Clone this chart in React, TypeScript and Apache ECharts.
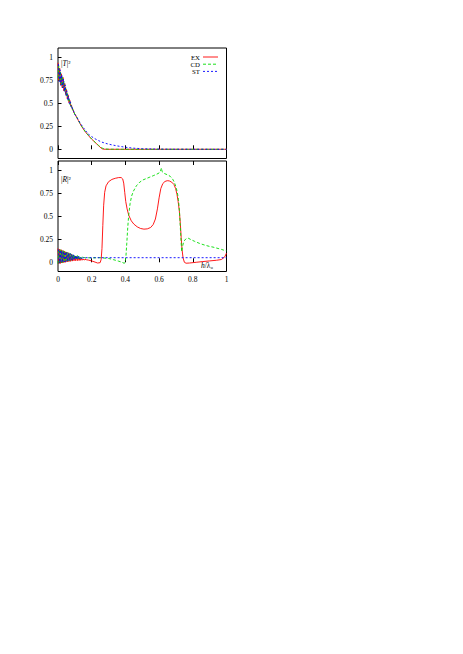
import React, { useEffect, useRef } from "react";
import * as echarts from "echarts";

// ---------- data ----------
const xTicks = [0, 0.2, 0.4, 0.6, 0.8, 1];
const yTicks = [0, 0.25, 0.5, 0.75, 1];

// top panel |T|^2 : fast oscillating start (x grid A and B)
const oscXA = [0, 0.005, 0.01, 0.015, 0.02, 0.025, 0.03, 0.035, 0.04, 0.045, 0.05, 0.055, 0.06, 0.065, 0.07, 0.075, 0.08, 0.085, 0.09, 0.095, 0.1];
const oscXB = [0.0025, 0.0075, 0.0125, 0.0175, 0.0225, 0.0275, 0.0325, 0.0375, 0.0425, 0.0475, 0.0525, 0.0575, 0.0625, 0.0675, 0.0725, 0.0775, 0.0825, 0.0875, 0.0925, 0.0975];
const tOscEX = [0.94, 0.745, 0.88, 0.7, 0.82, 0.67, 0.78, 0.635, 0.715, 0.595, 0.65, 0.549, 0.592, 0.507, 0.534, 0.47, 0.482, 0.431, 0.431, 0.392, 0.385];
const tOscCD = [0.77, 0.907, 0.728, 0.843, 0.687, 0.794, 0.666, 0.74, 0.62, 0.68, 0.574, 0.617, 0.531, 0.56, 0.488, 0.508, 0.45, 0.458, 0.41, 0.407, 0.376];
const tOscST = [0.925, 0.735, 0.863, 0.693, 0.809, 0.666, 0.762, 0.626, 0.7, 0.582, 0.636, 0.539, 0.578, 0.497, 0.522, 0.46, 0.47, 0.421, 0.419, 0.384];

const tTailEX: [number, number][] = [[0.11, 0.35], [0.12, 0.315], [0.13, 0.28], [0.14, 0.25], [0.15, 0.22], [0.16, 0.195], [0.18, 0.15], [0.2, 0.11], [0.22, 0.075], [0.24, 0.04], [0.255, 0.015], [0.265, 0.003], [0.28, 0], [0.4, 0], [0.6, 0], [1, 0]];
const tTailCD: [number, number][] = [[0.11, 0.352], [0.12, 0.317], [0.13, 0.283], [0.14, 0.252], [0.15, 0.223], [0.16, 0.197], [0.18, 0.152], [0.2, 0.112], [0.22, 0.077], [0.24, 0.043], [0.26, 0.015], [0.275, 0.004], [0.3, 0.001], [0.4, 0], [1, 0]];
const tTailST: [number, number][] = [[0.11, 0.355], [0.12, 0.322], [0.13, 0.29], [0.14, 0.262], [0.15, 0.236], [0.16, 0.212], [0.18, 0.165], [0.2, 0.137], [0.22, 0.114], [0.24, 0.095], [0.26, 0.078], [0.28, 0.066], [0.3, 0.056], [0.32, 0.048], [0.35, 0.037], [0.4, 0.022], [0.45, 0.012], [0.5, 0.006], [0.6, 0.002], [0.7, 0.001], [1, 0]];

// bottom panel |R|^2 : oscillating start
const rOscX = [0, 0.005, 0.01, 0.015, 0.02, 0.025, 0.03, 0.035, 0.04, 0.045, 0.05, 0.055, 0.06, 0.065, 0.07, 0.075, 0.08, 0.085, 0.09, 0.095, 0.1, 0.105, 0.11, 0.115, 0.12, 0.125, 0.13, 0.135, 0.14, 0.145, 0.15, 0.155, 0.16];
const rOscXB = [0.0025, 0.0075, 0.0125, 0.0175, 0.0225, 0.0275, 0.0325, 0.0375, 0.0425, 0.0475, 0.0525, 0.0575, 0.0625, 0.0675, 0.0725, 0.0775, 0.0825, 0.0875, 0.0925, 0.0975, 0.1025, 0.1075, 0.1125, 0.1175, 0.1225, 0.1275, 0.1325, 0.1375, 0.1425, 0.1475, 0.1525, 0.1575];
const rOscEX = [0.15, -0.017, 0.143, -0.012, 0.136, -0.008, 0.128, -0.004, 0.12, 0, 0.112, 0.004, 0.104, 0.007, 0.095, 0.01, 0.086, 0.013, 0.077, 0.016, 0.069, 0.017, 0.062, 0.018, 0.055, 0.019, 0.048, 0.021, 0.042, 0.023, 0.036, 0.024, 0.032];
const rOscCD = [-0.016, 0.143, -0.011, 0.136, -0.006, 0.13, -0.002, 0.123, 0.003, 0.116, 0.008, 0.109, 0.012, 0.103, 0.017, 0.096, 0.022, 0.089, 0.027, 0.083, 0.03, 0.078, 0.033, 0.073, 0.036, 0.068, 0.039, 0.063, 0.041, 0.059, 0.044, 0.055, 0.046];
const rOscST = [0.14, -0.01, 0.133, -0.005, 0.126, 0.0, 0.119, 0.004, 0.112, 0.008, 0.105, 0.012, 0.099, 0.016, 0.093, 0.02, 0.087, 0.024, 0.081, 0.028, 0.076, 0.031, 0.071, 0.034, 0.066, 0.037, 0.062, 0.04, 0.058, 0.043, 0.055, 0.046];

const rTailEX: [number, number][] = [[0.17, 0.027], [0.18, 0.024], [0.2, 0.015], [0.22, 0.002], [0.235, -0.008], [0.25, -0.004], [0.256, 0.03], [0.261, 0.15], [0.266, 0.4], [0.271, 0.62], [0.277, 0.76], [0.285, 0.83], [0.3, 0.875], [0.32, 0.9], [0.34, 0.912], [0.36, 0.92], [0.375, 0.92], [0.384, 0.905], [0.39, 0.86], [0.396, 0.76], [0.402, 0.66], [0.41, 0.58], [0.42, 0.51], [0.435, 0.45], [0.45, 0.415], [0.47, 0.385], [0.49, 0.367], [0.51, 0.36], [0.53, 0.363], [0.55, 0.378], [0.565, 0.41], [0.578, 0.47], [0.59, 0.58], [0.6, 0.7], [0.61, 0.8], [0.622, 0.855], [0.635, 0.878], [0.648, 0.886], [0.66, 0.884], [0.675, 0.87], [0.688, 0.845], [0.698, 0.8], [0.706, 0.74], [0.713, 0.66], [0.72, 0.56], [0.726, 0.42], [0.731, 0.27], [0.736, 0.14], [0.742, 0.05], [0.75, 0.0], [0.76, -0.01], [0.78, -0.008], [0.82, 0.0], [0.86, 0.008], [0.9, 0.015], [0.94, 0.022], [0.97, 0.03], [0.99, 0.06], [1.0, 0.1]];
const rTailCD: [number, number][] = [[0.17, 0.05], [0.2, 0.048], [0.25, 0.05], [0.3, 0.042], [0.33, 0.028], [0.36, 0.012], [0.38, 0.0], [0.392, -0.01], [0.398, -0.005], [0.403, 0.06], [0.408, 0.2], [0.414, 0.38], [0.42, 0.52], [0.428, 0.64], [0.437, 0.72], [0.447, 0.77], [0.465, 0.83], [0.485, 0.87], [0.505, 0.895], [0.525, 0.91], [0.545, 0.925], [0.565, 0.94], [0.584, 0.955], [0.6, 0.97], [0.608, 0.99], [0.614, 1.025], [0.618, 0.985], [0.63, 0.965], [0.65, 0.95], [0.665, 0.935], [0.68, 0.905], [0.69, 0.87], [0.7, 0.82], [0.708, 0.76], [0.715, 0.68], [0.721, 0.55], [0.726, 0.38], [0.73, 0.24], [0.734, 0.115], [0.738, 0.16], [0.744, 0.21], [0.752, 0.24], [0.762, 0.26], [0.775, 0.26], [0.79, 0.245], [0.81, 0.228], [0.84, 0.205], [0.87, 0.187], [0.9, 0.172], [0.92, 0.165], [0.95, 0.15], [0.97, 0.14], [0.99, 0.128], [1.0, 0.125]];
const rTailST: [number, number][] = [[0.165, 0.05], [0.2, 0.05], [0.4, 0.05], [0.6, 0.05], [0.8, 0.05], [1.0, 0.05]];

const legendNames = ["EX", "CD", "ST"];

// ---------- styling ----------
const FONT = "'Liberation Serif', 'DejaVu Serif', serif";
const COLORS = ["#ff0000", "#00dd00", "#0000ff"];
const DASHES: any[] = ["solid", [3, 2], [2, 2]];

const zip = (xs: number[], ys: number[]): [number, number][] => ys.map((y, i) => [xs[i], y]);

export default function App() {
  const ref = useRef<HTMLDivElement>(null);

  useEffect(() => {
    if (!ref.current) return;
    const chart = echarts.init(ref.current, undefined, { renderer: "svg" });

    const L = 58;
    const W = 168.5;
    const top1 = 48;
    const H = 110.5;
    const top2 = 161;

    const topData = [
      zip(oscXA, tOscEX).concat(tTailEX),
      zip(oscXA, tOscCD).concat(tTailCD),
      zip(oscXB, tOscST).concat(tTailST),
    ];
    const botData = [
      zip(rOscX, rOscEX).concat(rTailEX),
      zip(rOscX, rOscCD).concat(rTailCD),
      zip(rOscXB, rOscST).concat(rTailST),
    ];

    const label = { fontFamily: FONT, fontSize: 7.5, color: "#000" };

    const mkX = (gridIndex: number, position: "top" | "bottom", showLabel: boolean) => ({
      type: "value",
      gridIndex,
      position,
      min: 0,
      max: 1,
      interval: 0.2,
      axisLine: { show: false },
      splitLine: { show: false },
      axisTick: { show: true, inside: true, length: 4, lineStyle: { color: "#000", width: 1 } },
      axisLabel: {
        show: showLabel,
        ...label,
        margin: 4,
        formatter: (v: number) => String(+v.toFixed(1)),
      },
    });

    const mkY = (gridIndex: number) => ({
      type: "value",
      gridIndex,
      min: -0.1,
      max: 1.1,
      axisLine: { show: false },
      splitLine: { show: false },
      axisTick: { show: true, inside: true, length: 3.5, customValues: yTicks, lineStyle: { color: "#000", width: 1 } },
      axisLabel: { show: true, ...label, margin: 5, customValues: yTicks, formatter: (v: number) => String(v) },
    });

    const series: any[] = [];
    legendNames.forEach((name, i) => {
      series.push({
        name,
        type: "line",
        xAxisIndex: 0,
        yAxisIndex: 0,
        data: topData[i],
        showSymbol: false,
        symbol: "none",
        lineStyle: { color: COLORS[i], width: 0.9, type: DASHES[i] },
        z: 2 + i,
      });
      series.push({
        name,
        type: "line",
        xAxisIndex: 1,
        yAxisIndex: 1,
        data: botData[i],
        showSymbol: false,
        symbol: "none",
        lineStyle: { color: COLORS[i], width: 0.9, type: DASHES[i] },
        z: 2 + i,
      });
    });

    const legendGraphics: any[] = [];
    const legendY = [57, 64.2, 71.4];
    legendNames.forEach((name, i) => {
      legendGraphics.push({
        type: "text",
        x: 200,
        y: legendY[i],
        style: {
          text: name,
          fill: "#000",
          fontFamily: FONT,
          fontSize: 6.8,
          lineHeight: 6.8,
          align: "right",
          verticalAlign: "middle",
        },
      });
      legendGraphics.push({
        type: "line",
        shape: { x1: 203, y1: legendY[i], x2: 218, y2: legendY[i] },
        style: {
          stroke: COLORS[i],
          lineWidth: 0.9,
          lineDash: DASHES[i] === "solid" ? null : DASHES[i],
        },
      });
    });

    const richBase = {
      n: { fontFamily: FONT, fontSize: 7.5, fill: "#000" },
      i: { fontFamily: FONT, fontSize: 7.5, fontStyle: "italic", fill: "#000" },
    };

    chart.setOption({
      animation: false,
      backgroundColor: "#fff",
      grid: [
        { left: L, top: top1, width: W, height: H, show: true, borderColor: "#000", borderWidth: 1, backgroundColor: "transparent", containLabel: false },
        { left: L, top: top2, width: W, height: H, show: true, borderColor: "#000", borderWidth: 1, backgroundColor: "transparent", containLabel: false },
      ],
      xAxis: [mkX(0, "bottom", false), mkX(1, "bottom", true), mkX(1, "top", false)],
      yAxis: [mkY(0), mkY(1)],
      series,
      graphic: [
        ...legendGraphics,
        {
          type: "text",
          x: 61,
          y: 63,
          style: {
            text: "{n||}{i|T}{n||}{n|²}",
            rich: richBase,
            verticalAlign: "middle",
            align: "left",
          },
        },
        {
          type: "text",
          x: 61,
          y: 179,
          style: {
            text: "{n||}{i|R}{n||}{n|²}",
            rich: richBase,
            verticalAlign: "middle",
            align: "left",
          },
        },
        {
          type: "text",
          x: 201,
          y: 265.5,
          style: {
            text: "{i|h}{n|/λ₀}",
            rich: richBase,
            verticalAlign: "middle",
            align: "left",
          },
        },
      ],
    });

    return () => chart.dispose();
  }, []);

  return (
    <div
      ref={ref}
      style={{ position: "fixed", left: 0, top: 0, width: 463, height: 654, background: "#fff" }}
    />
  );
}
